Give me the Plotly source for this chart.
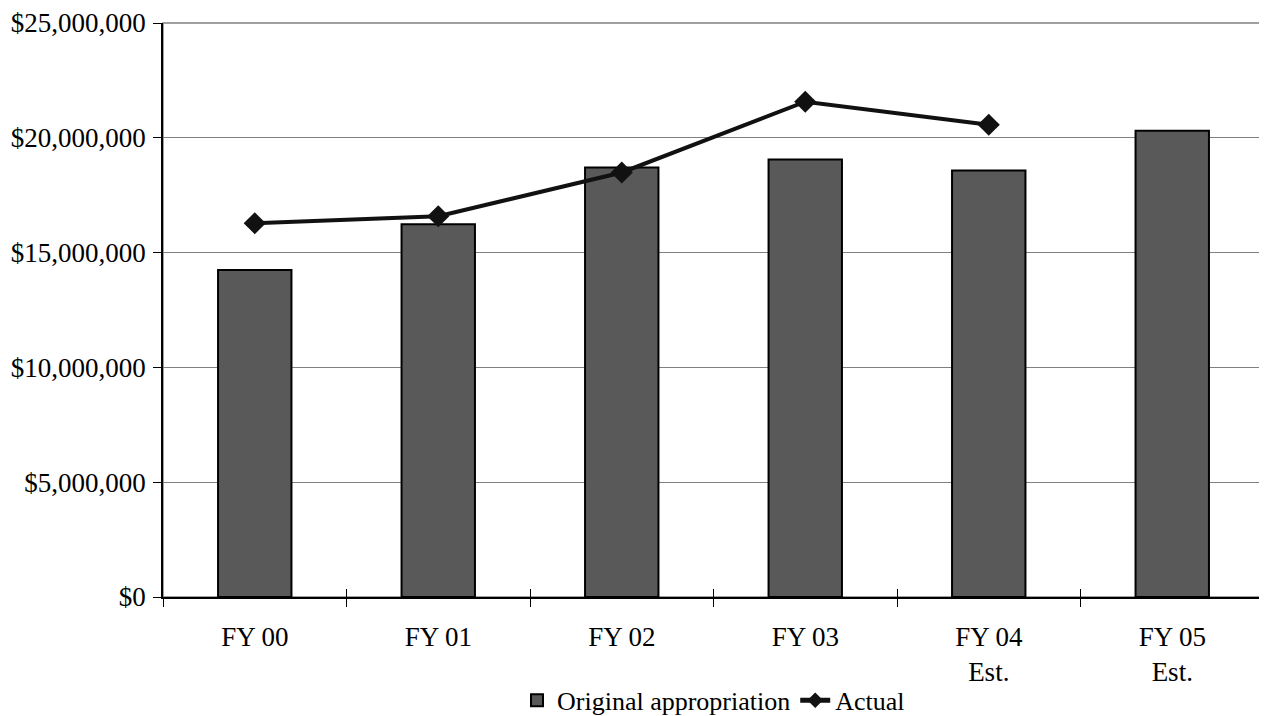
import plotly.graph_objects as go

categories = ["FY 00", "FY 01", "FY 02", "FY 03", "FY 04<br>Est.", "FY 05<br>Est."]
appropriation = [14240000, 16230000, 18710000, 19050000, 18580000, 20310000]
actual_cats = categories[:5]
actual = [16280000, 16580000, 18490000, 21570000, 20570000]
y_ticks = [0, 5000000, 10000000, 15000000, 20000000, 25000000]
y_labels = ["$0", "$5,000,000", "$10,000,000", "$15,000,000", "$20,000,000", "$25,000,000"]

font = dict(family="Liberation Serif", size=27, color="black")
legend_font = dict(family="Liberation Serif", size=26, color="black")

fig = go.Figure()
fig.add_trace(go.Bar(
    x=categories, y=appropriation, name="Original appropriation",
    marker=dict(color="#595959", line=dict(color="black", width=2)),
    width=0.4,
))
fig.add_trace(go.Scatter(
    x=actual_cats, y=actual, name="Actual", mode="lines+markers",
    line=dict(color="#111111", width=4),
    marker=dict(symbol="diamond", size=17, color="#111111"),
))
# invisible trace to carry a second x axis for crossing tick marks
fig.add_trace(go.Scatter(x=categories, y=[None]*len(categories), xaxis="x2",
                         showlegend=False, hoverinfo="skip"))

fig.update_layout(
    width=1259, height=708,
    margin=dict(l=155, r=3, t=15, b=119, autoexpand=False),
    paper_bgcolor="white", plot_bgcolor="white",
    font=font,
    showlegend=True,
    legend=dict(orientation="h", x=0.5, xanchor="center", y=-0.18, yanchor="middle",
                font=legend_font, itemsizing="constant", traceorder="normal",
                tracegroupgap=0),
    xaxis=dict(
        type="category", showgrid=False, showline=True, linecolor="black", linewidth=1.5,
        ticks="outside", tickson="boundaries", ticklen=8, tickcolor="black", tickwidth=1,
        tickfont=font, range=[-0.5, 5.5], automargin=False, ticklabelstandoff=15,
        ticklabeloverflow="allow",
    ),
    xaxis2=dict(
        type="category", overlaying="x", side="bottom", showgrid=False, showline=False,
        ticks="inside", tickson="boundaries", ticklen=8, tickcolor="black", tickwidth=1,
        showticklabels=False, range=[-0.5, 5.5], matches="x",
    ),
    yaxis=dict(
        range=[0, 25000000], tickvals=y_ticks, ticktext=y_labels,
        showgrid=True, gridcolor="#808080", gridwidth=1,
        showline=True, linecolor="black", linewidth=1.5,
        ticks="outside", ticklen=8, tickcolor="black", tickwidth=1,
        tickfont=font, zeroline=False, automargin=False, ticklabelstandoff=2,
        ticklabeloverflow="allow",
    ),
    shapes=[dict(type="rect", xref="paper", yref="paper", x0=0, x1=1, y0=0, y1=1,
                 line=dict(color="#808080", width=1.5), layer="below")],
    bargap=0.6,
)

fig.write_html("out.html")
